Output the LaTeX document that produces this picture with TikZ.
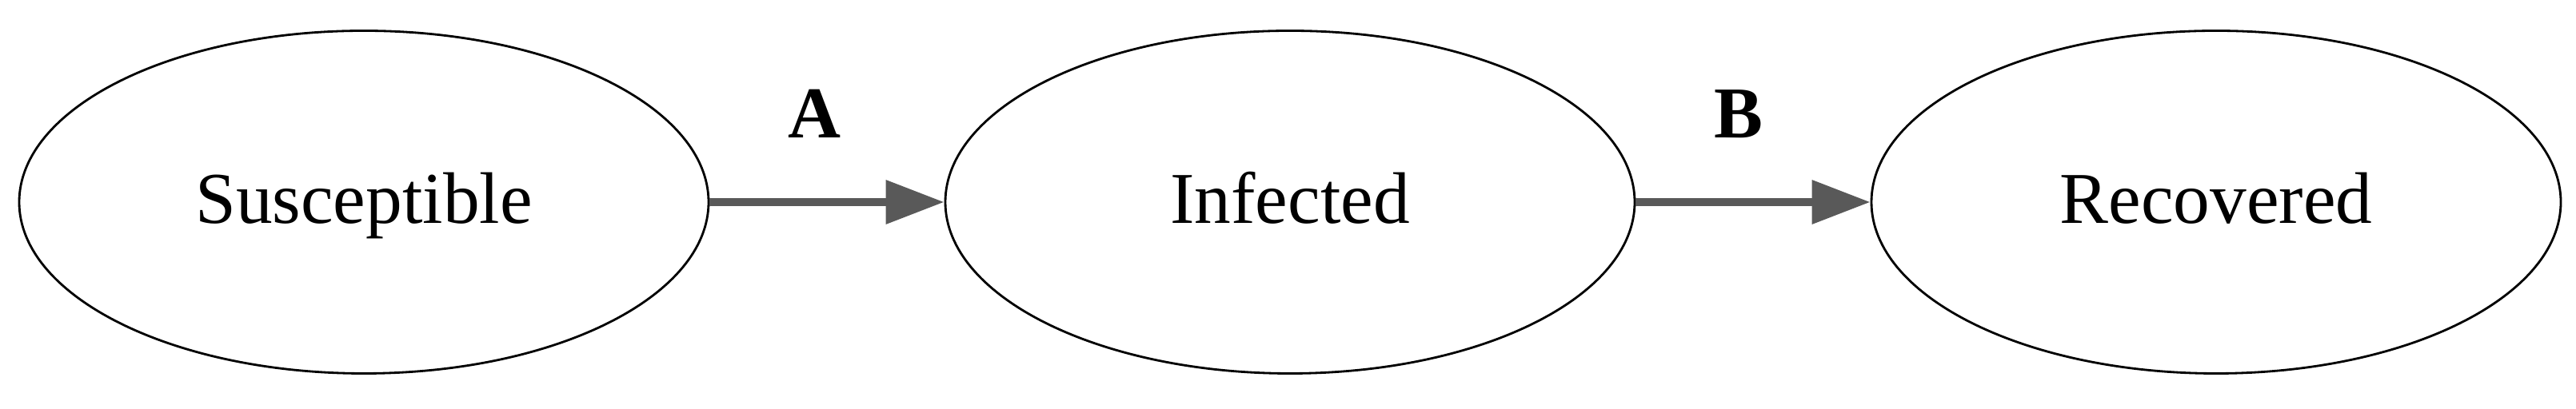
\documentclass[tikz,border=0pt]{standalone}
\usepackage{fontspec}
\setmainfont{Liberation Serif}
\usetikzlibrary{arrows.meta,shapes.geometric}
\definecolor{flowgray}{RGB}{89,89,89}

\begin{document}
\begin{tikzpicture}[
        state/.style={draw,ellipse,line width=0.8pt,minimum width=8.62cm,minimum height=4.29cm,inner sep=0pt,text height=0.74cm,text depth=0.2cm,font=\fontsize{26pt}{30pt}\selectfont},
        flow/.style={draw=flowgray,line width=2.85pt,-{Triangle[length=0.73cm,width=0.53cm,fill=flowgray]}},
        rate/.style={inner sep=0pt,font=\fontsize{26pt}{30pt}\selectfont\bfseries}
    ]
        \useasboundingbox (0,0) rectangle (32.21,5.12);
        \node[state] (sus) at (4.55,2.59) {Susceptible};
        \node[state] (inf) at (16.13,2.59) {Infected};
        \node[state] (rec) at (27.71,2.59) {Recovered};
        \draw[flow] (sus) -- node[rate,above=0.75cm,xshift=-0.16cm] (ra) {A} (inf);
        \draw[flow] (inf) -- node[rate,above=0.75cm,xshift=-0.18cm] (rb) {B} (rec);
    \end{tikzpicture}
\end{document}
